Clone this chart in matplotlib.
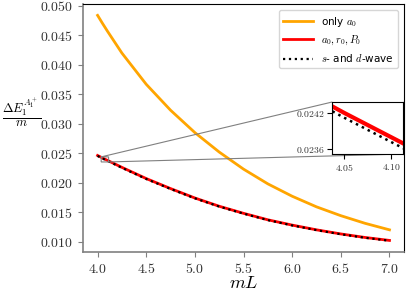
"""Energy shift vs mL with a zoomed inset near mL = 4."""
import matplotlib
matplotlib.use('Agg')
import matplotlib.pyplot as plt
from matplotlib.ticker import FuncFormatter, MultipleLocator

# values
ml = [4.0, 4.05, 4.10, 4.25, 4.5, 4.75, 5.0, 5.25, 5.5, 5.75, 6.0, 6.25,
      6.5, 6.75, 7.0]
only_a0 = [0.0484, 0.04705, 0.04575, 0.0420, 0.0367, 0.0323, 0.0285,
           0.0252, 0.0223, 0.0198, 0.0177, 0.0159, 0.0144, 0.0131, 0.0120]
a0_r0_p0 = [0.02462, 0.02420, 0.02380, 0.0226, 0.0207, 0.0190, 0.0174,
            0.0160, 0.0148, 0.0137, 0.0128, 0.0120, 0.0113, 0.0107, 0.0102]
s_d_wave = [0.02454, 0.02412, 0.02372, 0.02253, 0.02063, 0.01894, 0.01735,
            0.01595, 0.01475, 0.01365, 0.01275, 0.01195, 0.01125, 0.01065,
            0.01015]

x_ticks_in = [4.05, 4.10]
y_ticks_in = [0.0236, 0.0242]


def main():
    plt.rcParams['mathtext.fontset'] = 'cm'
    fig = plt.figure(figsize=(4.08, 2.92), dpi=100)
    ax = fig.add_axes([0.2034, 0.137, 0.787, 0.849])

    ax.plot(ml, only_a0, color='orange', lw=2, label=r'only $a_0$')
    ax.plot(ml, a0_r0_p0, color='red', lw=2, label=r'$a_0, r_0, P_0$')
    ax.plot(ml, s_d_wave, color='black', lw=1.6, ls=':',
            label=r'$s$- and $d$-wave')

    ax.yaxis.set_major_locator(MultipleLocator(0.005))
    ax.xaxis.set_major_formatter(FuncFormatter(lambda v, p: '$%.1f$' % v))
    ax.yaxis.set_major_formatter(FuncFormatter(lambda v, p: '$%.3f$' % v))
    ax.tick_params(labelsize=10, colors='gray', labelcolor='#333333')
    for side in ['left', 'bottom']:
        ax.spines[side].set_color('gray')
        ax.spines[side].set_linewidth(1.2)
    ax.set_xlabel('$mL$', fontsize=13, labelpad=-1)
    ax.set_ylabel(r'$\frac{\Delta E_1^{A_1^+}}{m}$', fontsize=13,
                  rotation=0, ha='center', va='center')
    ax.yaxis.set_label_coords(-0.19, 0.56)
    ax.legend(loc='upper right', fontsize=7.5, handlelength=2.8,
              borderaxespad=0.6)

    # zoomed inset
    axins = fig.add_axes([0.814, 0.4726, 0.174, 0.178])
    axins.plot(ml, a0_r0_p0, color='red', lw=3)
    axins.plot(ml, s_d_wave, color='black', lw=1.8, ls=':')
    axins.set_xlim(4.037, 4.113)
    axins.set_ylim(0.02352, 0.02438)
    axins.set_xticks(x_ticks_in)
    axins.set_yticks(y_ticks_in)
    axins.xaxis.set_major_formatter(FuncFormatter(lambda v, p: '$%.2f$' % v))
    axins.yaxis.set_major_formatter(FuncFormatter(lambda v, p: '$%.4f$' % v))
    axins.tick_params(labelsize=7, pad=2, labelcolor='#333333')
    ax.indicate_inset_zoom(axins, edgecolor='gray', alpha=1, lw=0.8)

    fig.savefig('out.png', dpi=100)


if __name__ == '__main__':
    main()
